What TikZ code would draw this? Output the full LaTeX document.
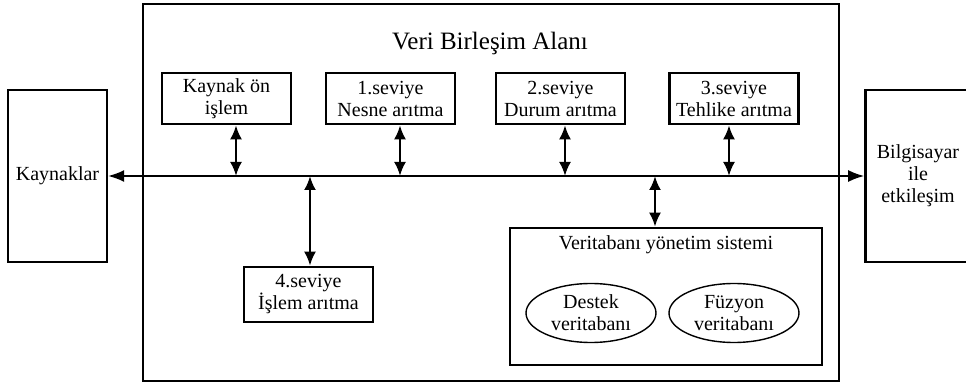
\documentclass[tikz,border=0pt]{standalone}
\usepackage{fontspec}
\setmainfont{Liberation Serif}
\usetikzlibrary{arrows.meta,positioning,shapes.geometric}

\begin{document}
\begin{tikzpicture}[x=0.5pt,y=-0.5pt,on grid,
   box/.style={draw,line width=1.3pt,align=center,minimum width=64.5pt,minimum height=25.5pt,inner sep=1pt,font=\fontsize{10}{11}\selectfont},
   side/.style={draw,line width=1.2pt,align=center,minimum height=86pt,font=\fontsize{10}{11}\selectfont},
   db/.style={draw,ellipse,line width=0.7pt,align=center,minimum width=65pt,minimum height=29.5pt,inner sep=-2pt,font=\fontsize{10}{11}\selectfont},
   link/.style={{Latex[length=7pt,width=6pt]}-{Latex[length=7pt,width=6pt]},line width=1.2pt}]
   \useasboundingbox (0,0) rectangle (966,385);
   \node[draw,line width=1.2pt,minimum width=348pt,minimum height=188.5pt] (area) at (491,192.5) {};
   \node[font=\fontsize{12.5}{14}\selectfont] (title) at (490,43) {Veri Birleşim Alanı};
   \node[side,minimum width=49.5pt] (kay) at (57.5,176) {Kaynaklar};
   \node[side,minimum width=52pt,text width=46pt] (bil) at (918,176) {Bilgisayar\\ile\\etkileşim};
   % seviyeler
   \node[box] (k0) at (226.5,98.5) {Kaynak ön\\işlem};
   \node[box,right=82pt of k0] (k1) {1.seviye\\Nesne arıtma};
   \node[box,right=85pt of k1] (k2) {2.seviye\\Durum arıtma};
   \node[box,right=86.75pt of k2] (k3) {3.seviye\\Tehlike arıtma};
   \node[box,minimum height=27.5pt] (k4) at (308.5,294.5) {4.seviye\\İşlem arıtma};
   % veritabani
   \node[draw,line width=1.3pt,minimum width=156pt,minimum height=68.5pt] (vt) at (666,296.5) {};
   \node[font=\fontsize{10}{11}\selectfont] (vtt) at (666,245) {Veritabanı yönetim sistemi};
   \node[db] (destek) at (591,313) {Destek\\veritabanı};
   \node[db,right=71.5pt of destek] (fuzyon) {Füzyon\\veritabanı};
   \draw[{Latex[length=8pt,width=6pt]}-{Latex[length=8pt,width=6pt]},line width=0.8pt] (kay) -- (bil);
   \foreach \n/\s in {k0/4.75pt,k1/4.75pt,k2/2.25pt,k3/-2.5pt}
      \draw[link] ([xshift=\s]\n.south) -- ([xshift=\s]\n.south |- kay);
   \draw[link] ([xshift=0.75pt]k4.north) -- ([xshift=0.75pt]k4.north |- kay);
   \draw[link] ([xshift=-5.5pt]vt.north) -- ([xshift=-5.5pt]vt.north |- kay);
\end{tikzpicture}
\end{document}
